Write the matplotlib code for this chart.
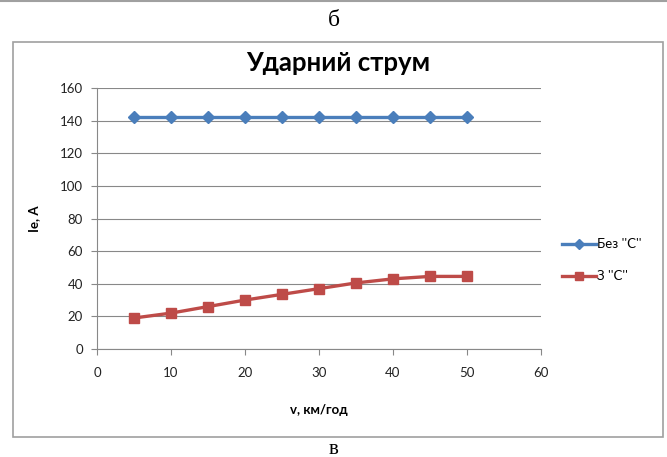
import matplotlib
matplotlib.use("Agg")
import matplotlib.pyplot as plt
from matplotlib.patches import Rectangle
from matplotlib.lines import Line2D

# speed, km/h
speed = [5, 10, 15, 20, 25, 30, 35, 40, 45, 50]
# shock current without / with "C"
i_without = [142, 142, 142, 142, 142, 142, 142, 142, 142, 142]
i_with = [19, 22, 26, 30, 33.5, 37, 40.5, 43, 44.5, 44.5]

plt.rcParams["font.family"] = ["Lato", "DejaVu Sans"]

fig = plt.figure(figsize=(6.67, 4.57), dpi=100)

# outer chart frame and page line
fig.add_artist(Rectangle((13 / 667, 1 - 437 / 457), 650 / 667, 395 / 457,
                         transform=fig.transFigure, fill=False,
                         edgecolor="#a0a0a0", linewidth=1.2))
fig.add_artist(Line2D([0, 1], [1 - 1 / 457, 1 - 1 / 457], transform=fig.transFigure,
                      color="#a0a0a0", linewidth=1.5))
fig.text(0.5, 1 - 20 / 457, "б", ha="center", va="center",
         fontsize=17, family="Liberation Serif")
fig.text(0.5, 1 - 449 / 457, "в", ha="center", va="center",
         fontsize=15, family="Liberation Serif")

# chart title is centred on the chart frame, not on the plot area
fig.text(338 / 667, 1 - 63 / 457, "Ударний струм", ha="center", va="center",
         fontsize=18.5, fontweight="bold")

ax = fig.add_axes([97 / 667, 1 - 349 / 457, 444 / 667, 261 / 457])

blue = "#4a7ebb"
red = "#be4b48"
ax.plot(speed, i_without, color=blue, linewidth=2.4, marker="D", markersize=6)
ax.plot(speed, i_with, color=red, linewidth=2.4, marker="s", markersize=7)

ax.set_xlim(0, 60)
ax.set_ylim(0, 160)
ax.set_xticks(range(0, 61, 10))
ax.set_yticks(range(0, 161, 20))
ax.grid(axis="y", color="#888888", linewidth=0.8)
ax.set_axisbelow(True)
for side in ("top", "right"):
    ax.spines[side].set_visible(False)
for side in ("left", "bottom"):
    ax.spines[side].set_color("#888888")
ax.tick_params(colors="#888888", labelcolor="#222222", labelsize=9.5, length=4)
ax.tick_params(axis="x", pad=9)
ax.tick_params(axis="y", pad=6)

ax.set_xlabel("v, км/год", fontsize=9.5, fontweight="bold", labelpad=18)
ax.set_ylabel("Ie, A", fontsize=9.5, fontweight="bold", labelpad=14)

handles = [
    Line2D([], [], color=blue, linewidth=2.4, marker="D", markersize=5),
    Line2D([], [], color=red, linewidth=2.4, marker="s", markersize=6),
]
ax.legend(handles, ["Без ''С''", "З ''С''"], loc="center left",
          bbox_to_anchor=(1.02, 0.34), frameon=False,
          fontsize=9.5, handlelength=2.6, labelspacing=1.5, handletextpad=0.1)

fig.savefig("out.png", dpi=100)
